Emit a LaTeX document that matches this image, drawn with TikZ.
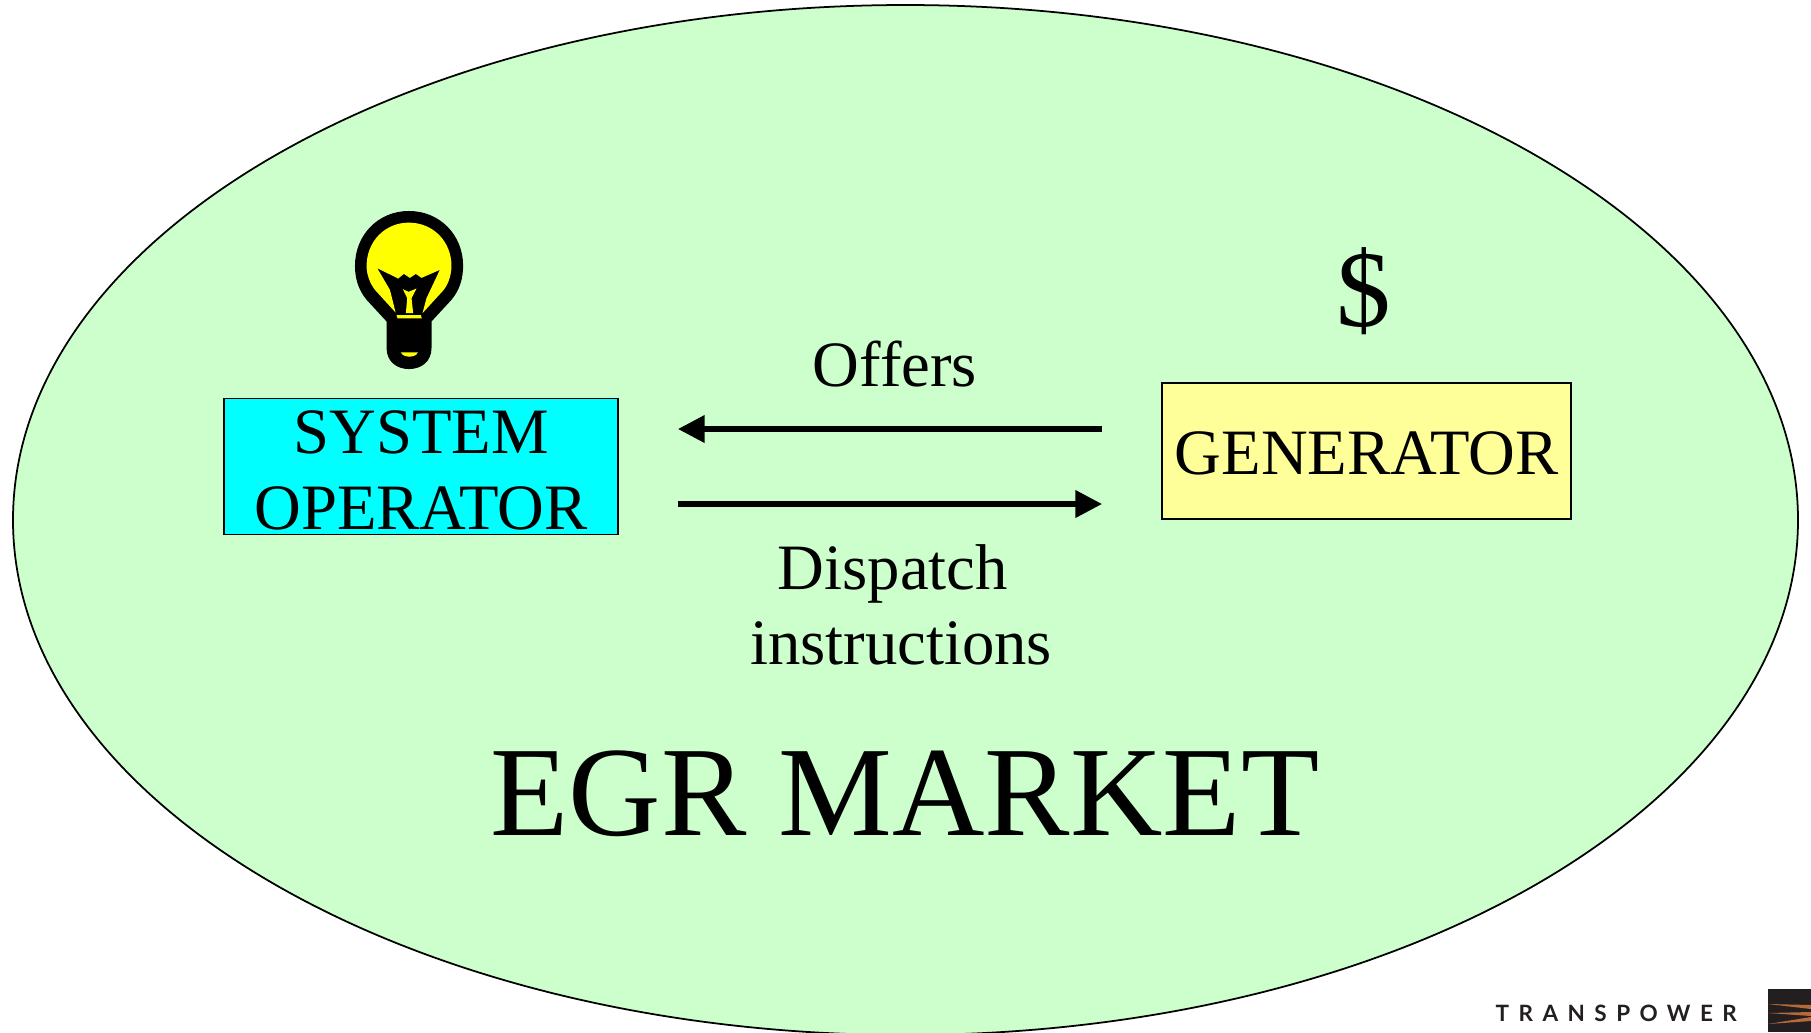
\documentclass[tikz,border=0pt]{standalone}
\usepackage{fontspec}
\setmainfont{Liberation Serif}
\newfontfamily\logofont[LetterSpace=42]{Lato Bold}
\usetikzlibrary{arrows.meta}
\definecolor{marketgreen}{HTML}{CCFFCC}
\definecolor{operatorcyan}{HTML}{00FFFF}
\definecolor{generatoryellow}{HTML}{FFFF99}
\definecolor{bulbyellow}{HTML}{FFFF00}
\definecolor{logodark}{HTML}{231F20}
\definecolor{logoorange}{HTML}{B8693A}
\tikzset{
    actor/.style={draw, line width=0.5pt, align=center, inner sep=0pt, font=\fontsize{18.4}{21.7}\selectfont},
    label/.style={align=center, inner sep=0pt, font=\fontsize{18.4}{21.3}\selectfont},
    flow/.style={line width=1.45pt, -{Triangle[length=7.6pt, width=7.6pt]}}
}
\begin{document}
\begin{tikzpicture}[x=0.01cm, y=-0.01cm]
    \useasboundingbox (0,0) rectangle (1811,1032);
    \begin{scope}
        \clip (0,0) rectangle (1811,1032);
        \draw[fill=marketgreen, line width=0.5pt] (905.5,520) ellipse (892.5 and 515);
    \end{scope}
    % boxes
    \node[actor, fill=operatorcyan, minimum width=3.94cm, minimum height=1.36cm] (operator) at (421,466.5) {\rule{0pt}{14.2pt}SYSTEM\\OPERATOR};
    \node[actor, fill=generatoryellow, minimum width=4.09cm, minimum height=1.36cm] (generator) at (1366.5,451) {\rule{0pt}{13.8pt}GENERATOR};
    % arrows
    \coordinate (offerstart) at (1102,429);
    \coordinate (offerend) at (678,429);
    \coordinate (dispatchstart) at (678,504);
    \coordinate (dispatchend) at (1102,504);
    \draw[flow] (offerstart) -- (offerend);
    \draw[flow] (dispatchstart) -- (dispatchend);
    \node[label, anchor=base] (offers) at (895,386) {Offers};
    \node[label, anchor=base] (dispatch) at (901,664) {\hspace*{-4.6pt}Dispatch\\instructions};
    \node[anchor=base, inner sep=0pt, font=\fontsize{31}{33}\selectfont] (dollar) at (1364,326) {\$};
    \node[anchor=base, inner sep=0pt, font=\fontsize{36.4}{40}\selectfont] (market) at (905,835) {EGR MARKET};
    % bulb
    \begin{scope}[shift={(330,190)}, x=0.00333cm, y=-0.00333cm]
        \fill[black] (170,395) -- (170,475) .. controls (170,515) and (200,538) .. (237,538) .. controls (275,538) and (305,515) .. (305,475) -- (305,395)
            -- (365,330) .. controls (390,300) and (400,265) .. (400,228) .. controls (400,135) and (330,63) .. (237,63)
            .. controls (145,63) and (75,135) .. (75,228) .. controls (75,265) and (85,300) .. (110,330) -- cycle;
        \fill[bulbyellow] (197,368) -- (135,300) .. controls (120,280) and (110,255) .. (110,228) .. controls (110,155) and (165,98) .. (237,98)
            .. controls (310,98) and (365,155) .. (365,228) .. controls (365,255) and (355,285) .. (340,302) -- (278,370)
            -- (290,325) -- (330,240) -- (275,264) -- (258,252) -- (240,264) -- (222,252) -- (205,266) -- (142,235) -- (180,300) -- cycle;
        \fill[bulbyellow] (200,376) -- (273,376) -- (276,386) -- (203,386) -- cycle;
        \fill[bulbyellow] (219,298) -- (236,306) -- (260,296) -- (245,325) -- (250,370) -- (228,370) -- (232,325) -- cycle;
        \fill[bulbyellow] (213,488) -- (264,488) .. controls (258,505) and (220,505) .. (213,488) -- cycle;
    \end{scope}
    % logo
    \node[anchor=base west, inner sep=0pt, text=logodark, font=\logofont\fontsize{6.4}{7}\selectfont] (transpower) at (1495,1021) {TRANSPOWER};
    \fill[logodark] (1768,989) rectangle (1811,1032);
    \fill[logoorange] (1768,1004) -- (1811,1005) -- (1811,1009) -- cycle;
    \fill[logoorange] (1768,1013) -- (1811,1012) -- (1811,1016) -- cycle;
    \fill[logoorange] (1768,1024) -- (1811,1017) -- (1811,1021) -- cycle;
\end{tikzpicture}
\end{document}
